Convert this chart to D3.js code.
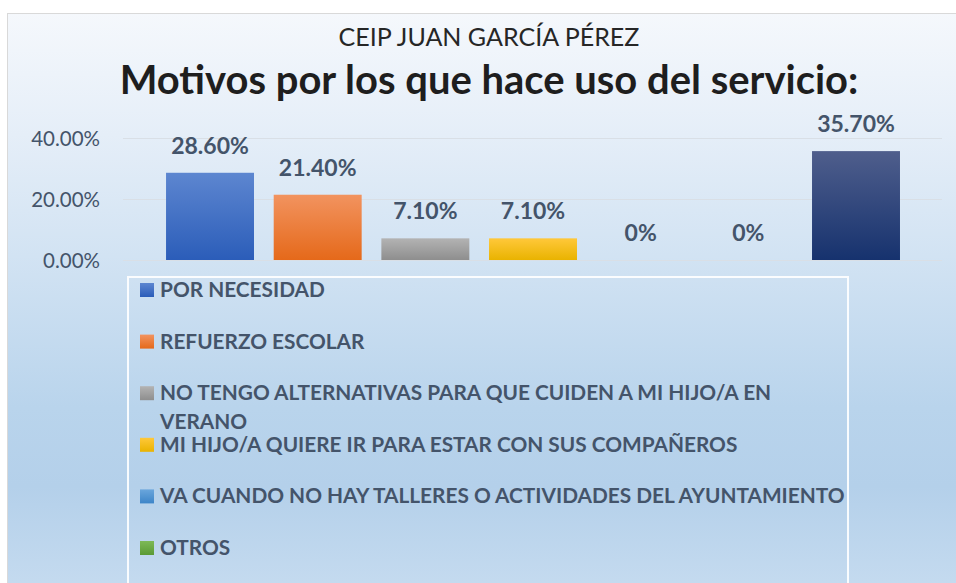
<!DOCTYPE html>
<html>
<head>
<meta charset="utf-8">
<script src="https://cdn.jsdelivr.net/npm/d3@7"></script>
<style>
  html, body { margin: 0; padding: 0; background: #ffffff; }
  svg { display: block; }
  text { font-family: Lato, "Open Sans", "DejaVu Sans", sans-serif; }
</style>
</head>
<body>
<script>
// Survey answers: reasons for using the service
const subtitle = "CEIP JUAN GARCÍA PÉREZ";
const title = "Motivos por los que hace uso del servicio:";
const categories = [
  "POR NECESIDAD",
  "REFUERZO ESCOLAR",
  "NO TENGO ALTERNATIVAS PARA QUE CUIDEN A MI HIJO/A EN VERANO",
  "MI HIJO/A QUIERE IR PARA ESTAR CON SUS COMPAÑEROS",
  "VA CUANDO NO HAY TALLERES O ACTIVIDADES DEL AYUNTAMIENTO",
  "OTROS",
  ""
];
const values = [0.286, 0.214, 0.071, 0.071, 0, 0, 0.357];
const yTicks = [0, 0.2, 0.4];

// Series colours (top, bottom of each vertical gradient)
const palette = [
  ["#5d86d0", "#2b5db9"],
  ["#f2935f", "#e5691a"],
  ["#b3b3b3", "#8e8e8e"],
  ["#ffc83a", "#e9b300"],
  ["#6aa6dc", "#3d85c8"],
  ["#7db957", "#5a9a35"],
  ["#4f5e8c", "#16326e"]
];

const W = 956, H = 583;
const textColor = "#44546a";
const plotLeft = 123, plotRight = 942;
const svg = d3.select("body").append("svg").attr("width", W).attr("height", H);
const defs = svg.append("defs");

const bg = defs.append("linearGradient").attr("id", "bg")
  .attr("gradientUnits", "userSpaceOnUse")
  .attr("x1", 0).attr("y1", 13).attr("x2", 0).attr("y2", 620);
[[0, "#f5f8fc"], [0.2, "#e5eef8"], [0.4, "#d2e3f3"], [0.65, "#b9d4ec"], [0.78, "#b4d0ea"], [1, "#cadef1"]]
  .forEach(([o, c]) => bg.append("stop").attr("offset", o).attr("stop-color", c));

palette.forEach((p, i) => {
  const g = defs.append("linearGradient").attr("id", "s" + i)
    .attr("x1", 0).attr("y1", 0).attr("x2", 0).attr("y2", 1);
  g.append("stop").attr("offset", 0).attr("stop-color", p[0]);
  g.append("stop").attr("offset", 1).attr("stop-color", p[1]);
});

// Chart area
svg.append("rect").attr("x", 0).attr("y", 0).attr("width", W).attr("height", H).attr("fill", "#ffffff");
svg.append("rect").attr("x", 7.5).attr("y", 13.5).attr("width", W + 20).attr("height", H + 20)
  .attr("fill", "url(#bg)").attr("stroke", "#d9d9d9").attr("stroke-width", 1);

// Scale a text element so that it spans the given width
function fitWidth(sel, width) {
  const w = sel.node().getComputedTextLength();
  const fs = parseFloat(sel.attr("font-size"));
  sel.attr("font-size", fs * width / w);
  return fs * width / w;
}

const cx = 489;
const sub = svg.append("text").attr("x", cx).attr("y", 46).attr("text-anchor", "middle")
  .attr("font-size", 26).attr("fill", "#262626").text(subtitle);
fitWidth(sub, 301);
const ttl = svg.append("text").attr("x", cx).attr("y", 94).attr("text-anchor", "middle")
  .attr("font-size", 36).attr("font-weight", "bold").attr("fill", "#1e1e1e").text(title);
fitWidth(ttl, 739);

// Scales
const x = d3.scaleBand().domain(d3.range(values.length)).range([plotLeft, plotRight])
  .paddingInner(0.183).paddingOuter(0.395).align(0.506);
const y = d3.scaleLinear().domain([0, 0.4]).range([260, 138]);

// Gridlines
svg.append("g").selectAll("line").data(yTicks).join("line")
  .attr("x1", plotLeft).attr("x2", plotRight)
  .attr("y1", d => Math.round(y(d)) + 0.5).attr("y2", d => Math.round(y(d)) + 0.5)
  .attr("stroke", "#d9dfe6").attr("stroke-width", 1.2);

// Y axis
const yAxis = svg.append("g").attr("transform", "translate(100,0)")
  .call(d3.axisLeft(y).tickValues(yTicks).tickFormat(d3.format(".2%")).tickSize(0).tickPadding(0));
yAxis.select(".domain").remove();
yAxis.selectAll("text").attr("font-family", "Lato, 'Open Sans', sans-serif")
  .attr("font-size", 20.5).attr("fill", textColor).attr("dy", "0.36em");

// Bars
svg.append("g").selectAll("rect").data(values).join("rect")
  .attr("x", (d, i) => x(i)).attr("width", x.bandwidth())
  .attr("y", d => y(d)).attr("height", d => y(0) - y(d))
  .attr("fill", (d, i) => `url(#s${i})`);

// Value labels
const fmt = v => v === 0 ? "0%" : d3.format(".2%")(v);
svg.append("g").selectAll("text").data(values).join("text")
  .attr("x", (d, i) => x(i) + x.bandwidth() / 2).attr("y", d => y(d) - 19)
  .attr("text-anchor", "middle").attr("font-weight", "bold").attr("font-size", 23)
  .attr("fill", textColor).text(fmt);

// Legend
svg.append("rect").attr("x", 128).attr("y", 277).attr("width", 720).attr("height", 400)
  .attr("fill", "none").attr("stroke", "#ffffff").attr("stroke-width", 2).attr("stroke-opacity", 0.9);

const probe = svg.append("text").attr("font-size", 20).attr("font-weight", "bold")
  .text(categories[4]);
const legendSize = fitWidth(probe, 685);
probe.remove();

const maxLine = 690;
const legend = svg.append("g");
categories.forEach((name, i) => {
  if (!name) return;
  const base = 297 + i * 51.6;
  legend.append("rect").attr("x", 140).attr("y", base - 14).attr("width", 14).attr("height", 14)
    .attr("fill", `url(#s${i})`);
  const t = legend.append("text").attr("x", 160).attr("y", base)
    .attr("font-size", legendSize).attr("font-weight", "bold").attr("fill", textColor);
  // word wrap to the legend width
  const words = name.split(" ");
  let line = [], lineNo = 0;
  let ts = t.append("tspan").attr("x", 160).attr("y", base);
  words.forEach(w => {
    line.push(w);
    ts.text(line.join(" "));
    if (ts.node().getComputedTextLength() > maxLine && line.length > 1) {
      line.pop();
      ts.text(line.join(" "));
      line = [w];
      lineNo++;
      ts = t.append("tspan").attr("x", 160).attr("y", base + lineNo * 29).text(w);
    }
  });
});
</script>
</body>
</html>
